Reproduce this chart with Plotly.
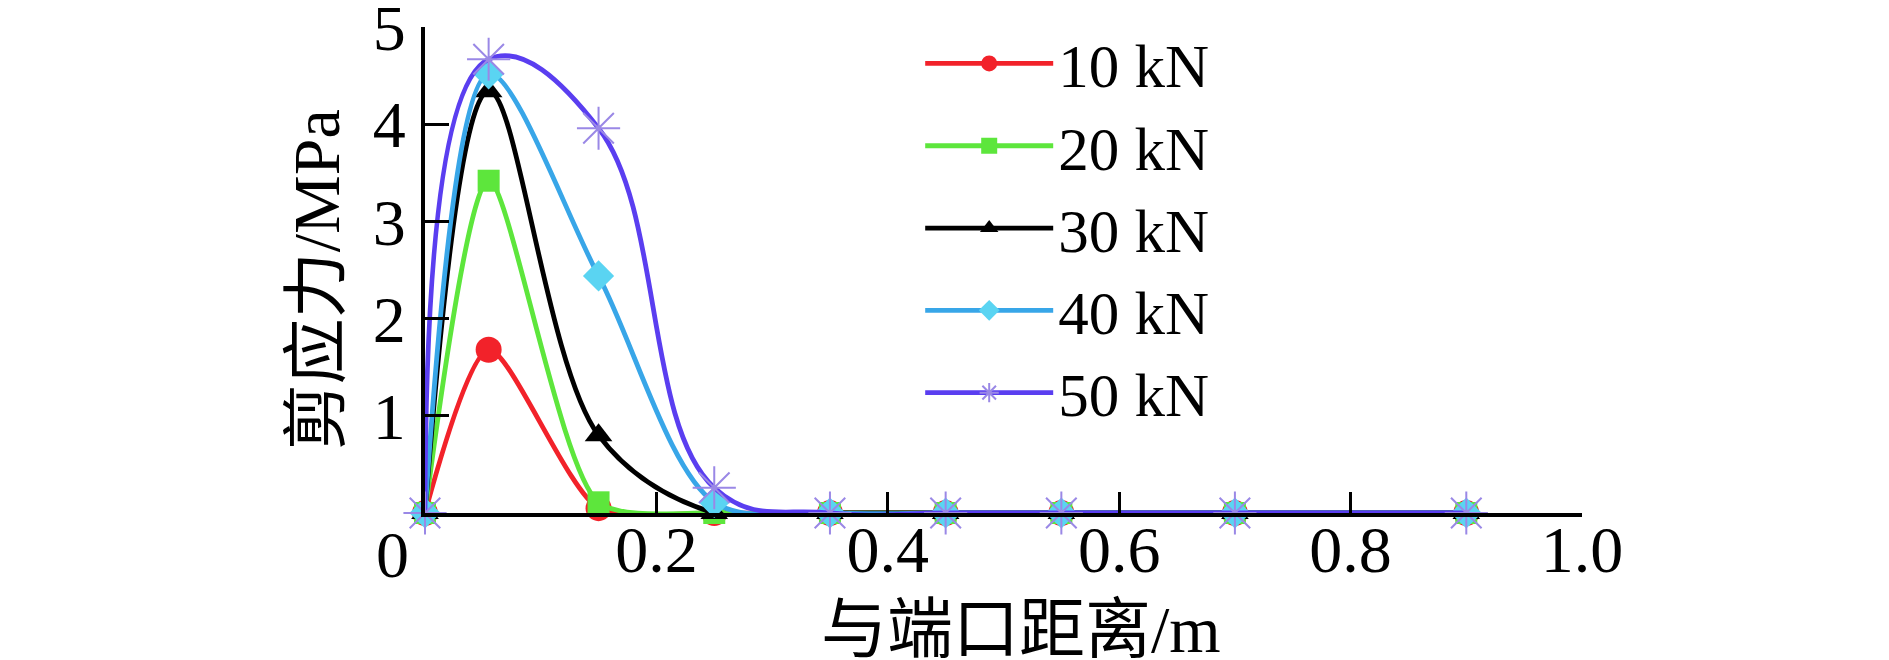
import plotly.graph_objects as go

# ---- data ----
distance_m = [0.0, 0.055, 0.15, 0.25, 0.35, 0.45, 0.55, 0.70, 0.90]
series_names = ["10 kN", "20 kN", "30 kN", "40 kN", "50 kN"]
stress_10kN = [0.0, 1.68, 0.05, 0.0, 0.0, 0.0, 0.0, 0.0, 0.0]
stress_20kN = [0.0, 3.42, 0.11, 0.0, 0.0, 0.0, 0.0, 0.0, 0.0]
stress_30kN = [0.0, 4.34, 0.80, 0.0, 0.0, 0.0, 0.0, 0.0, 0.0]
stress_40kN = [0.0, 4.52, 2.44, 0.11, 0.0, 0.0, 0.0, 0.0, 0.0]
stress_50kN = [0.0, 4.67, 3.96, 0.26, 0.0, 0.0, 0.0, 0.0, 0.0]
x_tick_vals = [0.2, 0.4, 0.6, 0.8, 1.0]
x_tick_text = ["0.2", "0.4", "0.6", "0.8", "1.0"]
y_tick_vals = [1, 2, 3, 4, 5]
y_tick_text = ["1", "2", "3", "4", "5"]

series_values = [stress_10kN, stress_20kN, stress_30kN, stress_40kN, stress_50kN]
styles = [
    dict(line="#f2222a", fill="#f2222a", sym="circle", size=26, lw=0),
    dict(line="#5de63c", fill="#5de63c", sym="square", size=22, lw=0),
    dict(line="#000000", fill="#000000", sym="triangle-up", size=24, lw=0),
    dict(line="#38a6e8", fill="#5ad4f2", sym="diamond", size=24, lw=0),
    dict(line="#5a3ef0", fill="#9a88e6", sym="asterisk-open", size=36, lw=2),
]
smooth = [0.7, 0.7, 1.0, 0.9, 1.2]

SERIF = "Liberation Serif, 'Times New Roman', 'Noto Sans CJK SC', serif"

fig = go.Figure()
for name, vals, st, sm in zip(series_names, series_values, styles, smooth):
    marker = dict(symbol=st["sym"], size=st["size"], color=st["fill"])
    if st["sym"].endswith("open"):
        marker["line"] = dict(color=st["fill"], width=st["lw"])
    else:
        marker["line"] = dict(width=0)
    fig.add_trace(go.Scatter(
        x=distance_m, y=vals, name=name, mode="lines+markers",
        line=dict(color=st["line"], width=4.8, shape="spline", smoothing=sm),
        marker=marker, cliponaxis=False,
    ))

# page body has an 8px default margin: compensate so the plot lands where the reference has it
fig.update_layout(
    width=1881, height=652, autosize=False,
    margin=dict(l=417, r=307, t=19, b=147, pad=0, autoexpand=False),
    paper_bgcolor="white", plot_bgcolor="white",
    font=dict(family=SERIF, size=62, color="black"),
    showlegend=True,
    legend=dict(
        x=0.428, y=1.02, xanchor="left", yanchor="top",
        font=dict(family=SERIF, size=61, color="black"),
        itemwidth=128, itemsizing="trace", bgcolor="rgba(0,0,0,0)",
        tracegroupgap=0, maxheight=640,
    ),
)
fig.update_xaxes(
    range=[0, 1.0], showgrid=False, zeroline=False,
    showline=True, linecolor="black", linewidth=4,
    ticks="inside", ticklen=21, tickwidth=3, tickcolor="black",
    tickvals=x_tick_vals, ticktext=x_tick_text,
    tickfont=dict(family=SERIF, size=66, color="black"),
    ticklabelstandoff=-24,
)
fig.update_yaxes(
    range=[0, 5.002], showgrid=False, zeroline=False,
    showline=True, linecolor="black", linewidth=4,
    ticks="inside", ticklen=24, tickwidth=3, tickcolor="black",
    tickvals=y_tick_vals, ticktext=y_tick_text,
    tickfont=dict(family=SERIF, size=66, color="black"),
    ticklabelstandoff=2, ticklabeloverflow="allow",
)

fig.add_annotation(text="0", xref="paper", yref="paper", x=-0.0285, y=-0.086,
                   showarrow=False, font=dict(family=SERIF, size=66, color="black"),
                   xanchor="center", yanchor="middle")
fig.add_annotation(text="与端口距离/m", xref="paper", yref="paper", x=0.515, y=-0.239,
                   showarrow=False, font=dict(family=SERIF, size=66, color="black"),
                   xanchor="center", yanchor="middle")
fig.add_annotation(text="剪应力/MPa", xref="paper", yref="paper", x=-0.0942, y=0.479,
                   showarrow=False, textangle=-90,
                   font=dict(family=SERIF, size=66, color="black"),
                   xanchor="center", yanchor="middle")

fig.write_html("out.html")
